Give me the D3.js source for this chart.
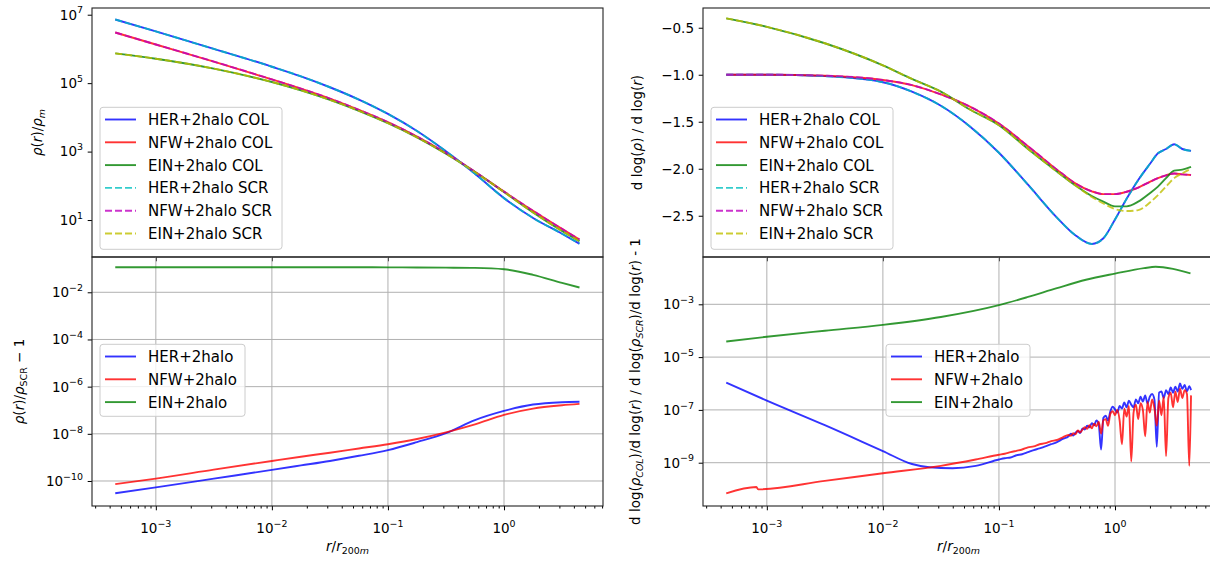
<!DOCTYPE html>
<html>
<head>
<meta charset="utf-8">
<script src="https://cdn.jsdelivr.net/npm/d3@7/dist/d3.min.js"></script>
<style>
  body { margin: 0; background: #fff; }
  svg { display: block; }
  text { font-family: "DejaVu Sans", sans-serif; fill: #000; }
</style>
</head>
<body>
<svg id="chart" width="1210" height="566"></svg>
<script>
// radius grid of the density panels, r / r200m
const rProfile = [4.47e-4, 1e-3, 3.16e-3, 1e-2, 1.78e-2, 3.16e-2, 5.62e-2, 0.1, 0.178, 0.316, 0.562, 1, 1.78, 3.16, 4.47];

// rho(r) / rho_m  (COL and SCR lie on top of each other here)
const herDensity = [7.24e6, 3.24e6, 1.0e6, 3.02e5, 1.58e5, 7.59e4, 3.31e4, 1.26e4, 3.98e3, 1.02e3, 224, 43.7, 11.5, 3.98, 2.04];
const nfwDensity = [3.02e6, 1.35e6, 4.27e5, 1.29e5, 6.92e4, 3.55e4, 1.66e4, 7.24e3, 2.75e3, 912, 257, 67.6, 18.6, 5.50, 2.69];
const einDensity = [7.41e5, 5.18e5, 2.66e5, 1.08e5, 6.18e4, 3.26e4, 1.56e4, 6.78e3, 2.61e3, 869, 252, 65.8, 16.7, 4.79, 2.40];

// rho(r) / rho_SCR - 1
const herRatio = [3.02e-11, 5.37e-11, 1.26e-10, 2.95e-10, 4.57e-10, 7.08e-10, 1.17e-9, 2.04e-9, 4.47e-9, 1.07e-8, 3.80e-8, 9.33e-8, 1.74e-7, 2.19e-7, 2.29e-7];
const nfwRatio = [7.41e-11, 1.26e-10, 3.02e-10, 7.08e-10, 1.07e-9, 1.58e-9, 2.40e-9, 3.63e-9, 6.03e-9, 1.15e-8, 2.51e-8, 6.31e-8, 1.17e-7, 1.62e-7, 1.86e-7];
const einRatio = [0.115, 0.115, 0.115, 0.115, 0.115, 0.115, 0.115, 0.114, 0.113, 0.111, 0.108, 0.095, 0.055, 0.025, 0.016];

// logarithmic slope d log(rho) / d log(r)
const rSlope = [4.47e-4, 1e-3, 3.16e-3, 1e-2, 1.78e-2, 3.16e-2, 5.62e-2, 0.1, 0.178, 0.316, 0.447, 0.631, 0.794, 1, 1.259, 1.585, 1.995, 2.344, 2.754, 3.236, 3.802, 4.519];
const herSlope = [-1.00, -1.00, -1.015, -1.08, -1.18, -1.33, -1.55, -1.83, -2.17, -2.52, -2.70, -2.80, -2.74, -2.54, -2.32, -2.12, -1.95, -1.836, -1.79, -1.74, -1.79, -1.81];
const nfwSlope = [-1.00, -1.00, -1.01, -1.056, -1.11, -1.21, -1.34, -1.52, -1.76, -2.01, -2.15, -2.24, -2.27, -2.27, -2.245, -2.20, -2.14, -2.10, -2.07, -2.05, -2.06, -2.067];
const einSlopeCol = [-0.40, -0.49, -0.665, -0.90, -1.045, -1.18, -1.37, -1.537, -1.79, -2.03, -2.17, -2.29, -2.35, -2.40, -2.40, -2.35, -2.26, -2.19, -2.10, -2.02, -2.01, -1.98];
const einSlopeScr = [-0.40, -0.49, -0.665, -0.90, -1.045, -1.18, -1.37, -1.537, -1.79, -2.03, -2.17, -2.30, -2.37, -2.43, -2.45, -2.44, -2.36, -2.28, -2.19, -2.10, -2.05, -2.00];

// slope ratio - 1, smooth inner part
const rHerInner = [4.47e-4, 1e-3, 3.16e-3, 1e-2, 1.78e-2, 2.51e-2, 3.98e-2, 6.31e-2];
const herDiffInner = [1.07e-6, 2.24e-7, 2.63e-8, 2.75e-9, 8.91e-10, 6.76e-10, 6.17e-10, 7.59e-10];
const rNfwInner = [4.47e-4, 8.13e-4, 8.41e-4, 3.16e-3, 1e-2, 3.16e-2, 6.31e-2];
const nfwDiffInner = [6.92e-11, 1.20e-10, 9.77e-11, 2.04e-10, 3.98e-10, 7.59e-10, 1.32e-9];

// slope ratio - 1, noisy outer part
const rNoisy = [0.1, 0.1122, 0.1259, 0.1413, 0.1585, 0.1778, 0.1995, 0.2239, 0.2512, 0.2818, 0.3162, 0.3548,
  0.3981, 0.4169, 0.4365, 0.4571, 0.4786, 0.5012, 0.5248, 0.5495, 0.5754, 0.6026, 0.6310, 0.6607, 0.6918, 0.7244,
  0.7586, 0.7943, 0.8318, 0.8710, 0.9120, 0.9550, 1.0, 1.047, 1.096, 1.148, 1.202, 1.259, 1.318, 1.380, 1.445,
  1.514, 1.585, 1.660, 1.738, 1.820, 1.905, 1.995, 2.089, 2.188, 2.291, 2.399, 2.512, 2.630, 2.754, 2.884, 3.020,
  3.162, 3.311, 3.467, 3.631, 3.802, 3.981, 4.169, 4.365, 4.519];
const herDiffNoisy = [1.32e-9, 1.48e-9, 1.58e-9, 1.91e-9, 2.09e-9, 2.51e-9, 3.02e-9, 3.47e-9, 4.17e-9, 5.01e-9, 6.03e-9, 7.94e-9,
  1.0e-8, 1.26e-8, 1.07e-8, 1.38e-8, 1.58e-8, 1.32e-8, 2.0e-8, 1.82e-8, 2.51e-8, 2.19e-8, 3.16e-8, 2.63e-8, 3.98e-8, 2.82e-8,
  3.16e-9, 5.01e-8, 6.03e-8, 3.98e-8, 8.91e-8, 1.32e-7, 1.05e-7, 7.94e-8, 1.41e-7, 1.12e-7, 1.91e-7, 1.26e-7, 2.24e-7, 1.58e-7,
  1.26e-7, 2.51e-7, 1.78e-7, 3.16e-7, 2.09e-7, 3.55e-7, 1.78e-7, 3.16e-7, 3.98e-7, 2.40e-7, 3.98e-9, 4.47e-7, 5.01e-7, 2.82e-7,
  5.62e-7, 3.98e-7, 7.08e-7, 4.47e-7, 7.59e-7, 5.01e-7, 1.0e-6, 6.31e-7, 8.91e-7, 5.01e-7, 7.94e-7, 5.62e-7];
const nfwDiffNoisy = [2.0e-9, 2.19e-9, 2.51e-9, 2.82e-9, 3.16e-9, 3.80e-9, 4.17e-9, 5.01e-9, 5.50e-9, 6.61e-9, 7.24e-9, 9.12e-9,
  1.12e-8, 1.05e-8, 1.32e-8, 1.20e-8, 1.66e-8, 1.41e-8, 1.78e-8, 2.19e-8, 1.91e-8, 2.63e-8, 2.0e-8, 3.02e-8, 2.40e-8, 3.55e-8,
  1.26e-8, 3.98e-8, 4.47e-8, 2.51e-8, 7.08e-8, 8.91e-8, 6.31e-8, 1.0e-7, 3.98e-8, 5.01e-9, 1.12e-7, 5.62e-8, 1.41e-7, 1.12e-9,
  7.94e-8, 1.58e-7, 4.47e-8, 1.78e-7, 1.0e-7, 1.0e-8, 2.0e-7, 7.94e-8, 2.51e-7, 1.12e-7, 2.51e-8, 2.24e-7, 6.31e-8, 3.16e-7,
  1.78e-9, 2.82e-7, 4.47e-7, 1.26e-7, 5.01e-7, 2.0e-7, 6.31e-7, 2.82e-7, 5.62e-7, 3.98e-7, 7.59e-10, 3.55e-7];
const rEinDiff = [4.47e-4, 1e-3, 3.16e-3, 1e-2, 3.16e-2, 0.1, 0.178, 0.316, 0.562, 1, 1.78, 2.24, 3.16, 4.47];
const einDiff = [3.9e-5, 5.9e-5, 1.0e-4, 1.66e-4, 3.3e-4, 9.3e-4, 1.9e-3, 4.1e-3, 8.5e-3, 1.45e-2, 2.34e-2, 2.63e-2, 2.19e-2, 1.48e-2];

// ticks and labels
const xTickExp = [-3, -2, -1, 0];
const yTickExpDensity = [7, 5, 3, 1];
const yTickExpRatio = [-2, -4, -6, -8, -10];
const yTickSlope = [-0.5, -1.0, -1.5, -2.0, -2.5];
const yTickExpDiff = [-3, -5, -7, -9];
const profileLabels = ['HER+2halo COL', 'NFW+2halo COL', 'EIN+2halo COL', 'HER+2halo SCR', 'NFW+2halo SCR', 'EIN+2halo SCR'];
const ratioLabels = ['HER+2halo', 'NFW+2halo', 'EIN+2halo'];

const colors = {her: '#0000ff', nfw: '#ff0000', ein: '#008000', herScr: '#00bfbf', nfwScr: '#bf00bf', einScr: '#bfbf00'};
const LW = 1.9, DASH = '7,3';
const TICK_FS = 13.5, LEG_FS = 15, LAB_FS = 13.5;

const svg = d3.select('#chart');
const xDomain = [Math.pow(10, -3.55), Math.pow(10, 0.853)];
var clipCount = 0;

function expText(e){
  return e < 0 ? '\u2212' + (-e) : String(e);
}

function richText(sel, parts, fs){
  let shift = 0;
  parts.forEach(function(part){
    const ts = sel.append('tspan').text(part.t);
    let want = 0;
    if(part.sub) want = fs * 0.24;
    if(part.sup) want = -fs * 0.45;
    if(want !== shift) ts.attr('dy', want - shift);
    shift = want;
    if(part.it) ts.attr('font-style', 'italic');
    if(part.sub || part.sup) ts.attr('font-size', fs * 0.7);
  });
}

function makePanel(f, yScale, opts){
  const g = svg.append('g');
  const x = d3.scaleLog().domain(xDomain).range([f.left, f.right]);
  const y = yScale.range([f.bottom, f.top]);
  const id = 'clip' + (clipCount++);

  svg.append('clipPath').attr('id', id).append('rect')
    .attr('x', f.left).attr('y', f.top)
    .attr('width', f.right - f.left).attr('height', f.bottom - f.top);

  const xMajor = xTickExp.map(e => Math.pow(10, e));

  if(opts.grid){
    const grid = g.append('g').attr('stroke', '#b0b0b0').attr('stroke-width', 1);
    xMajor.forEach(v => {
      grid.append('line').attr('x1', x(v)).attr('x2', x(v)).attr('y1', f.top).attr('y2', f.bottom);
    });
    opts.yTicks.forEach(v => {
      grid.append('line').attr('x1', f.left).attr('x2', f.right).attr('y1', y(v)).attr('y2', y(v));
    });
  }

  const plot = g.append('g').attr('clip-path', 'url(#' + id + ')');

  // x ticks
  const xa = g.append('g').attr('transform', 'translate(0,' + f.bottom + ')')
    .call(d3.axisBottom(x).tickValues(xMajor).tickSize(4.3).tickSizeOuter(0).tickFormat(''));
  xa.select('.domain').remove();

  if(opts.xLabels){
    const minor = [];
    for(let k = -4; k <= 0; k++){
      for(let m = 2; m <= 9; m++){
        const v = m * Math.pow(10, k);
        if(v > xDomain[0] && v < xDomain[1]) minor.push(v);
      }
    }
    const xm = g.append('g').attr('transform', 'translate(0,' + f.bottom + ')')
      .call(d3.axisBottom(x).tickValues(minor).tickSize(2.5).tickSizeOuter(0).tickFormat(''));
    xm.select('.domain').remove();

    xTickExp.forEach(e => {
      const t = g.append('text').attr('x', x(Math.pow(10, e))).attr('y', f.bottom + 27)
        .attr('text-anchor', 'middle').attr('font-size', TICK_FS);
      richText(t, [{t: '10'}, {t: expText(e), sup: true}], TICK_FS);
    });

    const xl = g.append('text').attr('x', (f.left + f.right) / 2).attr('y', f.bottom + 45)
      .attr('text-anchor', 'middle').attr('font-size', LAB_FS);
    richText(xl, [{t: 'r', it: true}, {t: '/'}, {t: 'r', it: true}, {t: '200', sub: true}, {t: 'm', sub: true, it: true}], LAB_FS);
  }

  // y ticks
  const ya = g.append('g').attr('transform', 'translate(' + f.left + ',0)')
    .call(d3.axisLeft(y).tickValues(opts.yTicks).tickSize(4.3).tickSizeOuter(0).tickFormat(''));
  ya.select('.domain').remove();

  opts.yTicks.forEach((v, i) => {
    const t = g.append('text').attr('x', f.left - 9).attr('y', y(v) + TICK_FS * 0.36)
      .attr('text-anchor', 'end').attr('font-size', TICK_FS);
    if(opts.yExp){
      richText(t, [{t: '10'}, {t: expText(opts.yExp[i]), sup: true}], TICK_FS);
    } else {
      t.text(d3.format('.1f')(v).replace('-', '\u2212'));
    }
  });

  const yl = g.append('text')
    .attr('transform', 'translate(' + opts.labelX + ',' + (f.top + f.bottom) / 2 + ') rotate(-90)')
    .attr('text-anchor', 'middle').attr('font-size', LAB_FS);
  richText(yl, opts.label, LAB_FS);

  return {g: g, plot: plot, x: x, y: y, f: f};
}

function addLine(p, xs, ys, color, dashed){
  const pts = xs.map((v, i) => [v, ys[i]]);
  const line = d3.line().x(d => p.x(d[0])).y(d => p.y(d[1])).curve(d3.curveMonotoneX);
  p.plot.append('path').datum(pts)
    .attr('d', line)
    .attr('fill', 'none')
    .attr('stroke', color)
    .attr('stroke-opacity', 0.8)
    .attr('stroke-width', LW)
    .attr('stroke-linejoin', 'round')
    .attr('stroke-dasharray', dashed ? DASH : null);
}

function addFrame(p){
  const f = p.f;
  p.g.append('rect').attr('x', f.left).attr('y', f.top)
    .attr('width', f.right - f.left).attr('height', f.bottom - f.top)
    .attr('fill', 'none').attr('stroke', '#222').attr('stroke-width', 1.1);
}

function addLegend(p, box, items){
  const lg = p.g.append('g');
  lg.append('rect').attr('x', box.x).attr('y', box.y).attr('width', box.w).attr('height', box.h)
    .attr('rx', 3).attr('fill', '#fff').attr('fill-opacity', 0.8)
    .attr('stroke', '#cccccc').attr('stroke-width', 1);
  items.forEach((it, i) => {
    const cy = box.y + 12.2 + i * 22.8;
    lg.append('line').attr('x1', box.x + 5).attr('x2', box.x + 36).attr('y1', cy).attr('y2', cy)
      .attr('stroke', it.color).attr('stroke-opacity', 0.8).attr('stroke-width', LW)
      .attr('stroke-dasharray', it.dashed ? DASH : null);
    lg.append('text').attr('x', box.x + 48).attr('y', cy + LEG_FS * 0.36)
      .attr('font-size', LEG_FS).text(it.label);
  });
}

const profileItems = profileLabels.map((l, i) => ({
  label: l,
  color: [colors.her, colors.nfw, colors.ein, colors.herScr, colors.nfwScr, colors.einScr][i],
  dashed: i > 2
}));
const ratioItems = ratioLabels.map((l, i) => ({label: l, color: [colors.her, colors.nfw, colors.ein][i], dashed: false}));

// top left: density profiles
const tl = makePanel({left: 92, right: 603, top: 8, bottom: 257},
  d3.scaleLog().domain([Math.pow(10, -0.08), Math.pow(10, 7.196)]),
  {yTicks: yTickExpDensity.map(e => Math.pow(10, e)), yExp: yTickExpDensity, labelX: 42,
   label: [{t: 'ρ', it: true}, {t: '('}, {t: 'r', it: true}, {t: ')/'}, {t: 'ρ', it: true}, {t: 'm', it: true, sub: true}]});
addLine(tl, rProfile, herDensity, colors.her);
addLine(tl, rProfile, nfwDensity, colors.nfw);
addLine(tl, rProfile, einDensity, colors.ein);
addLine(tl, rProfile, herDensity, colors.herScr, true);
addLine(tl, rProfile, nfwDensity, colors.nfwScr, true);
addLine(tl, rProfile, einDensity, colors.einScr, true);
addFrame(tl);
addLegend(tl, {x: 100, y: 107.3, w: 182, h: 142}, profileItems);

// bottom left: density ratio
const bl = makePanel({left: 92, right: 603, top: 257, bottom: 506},
  d3.scaleLog().domain([Math.pow(10, -11.06), Math.pow(10, -0.504)]),
  {grid: true, xLabels: true, yTicks: yTickExpRatio.map(e => Math.pow(10, e)), yExp: yTickExpRatio, labelX: 24,
   label: [{t: 'ρ', it: true}, {t: '('}, {t: 'r', it: true}, {t: ')/'}, {t: 'ρ', it: true}, {t: 'SCR', sub: true}, {t: ' \u2212 1'}]});
addLine(bl, rProfile, herRatio, colors.her);
addLine(bl, rProfile, nfwRatio, colors.nfw);
addLine(bl, rProfile, einRatio, colors.ein);
addFrame(bl);
addLegend(bl, {x: 100, y: 344.3, w: 145, h: 72}, ratioItems);

// top right: logarithmic slopes
const tr = makePanel({left: 703, right: 1214, top: 8, bottom: 257},
  d3.scaleLinear().domain([-2.939, -0.290]),
  {yTicks: yTickSlope, labelX: 642,
   label: [{t: 'd log('}, {t: 'ρ', it: true}, {t: ') / d log('}, {t: 'r', it: true}, {t: ')'}]});
addLine(tr, rSlope, herSlope, colors.her);
addLine(tr, rSlope, nfwSlope, colors.nfw);
addLine(tr, rSlope, einSlopeCol, colors.ein);
addLine(tr, rSlope, herSlope, colors.herScr, true);
addLine(tr, rSlope, nfwSlope, colors.nfwScr, true);
addLine(tr, rSlope, einSlopeScr, colors.einScr, true);
addFrame(tr);
addLegend(tr, {x: 711, y: 107.3, w: 182, h: 142}, profileItems);

// bottom right: slope ratio
const br = makePanel({left: 703, right: 1214, top: 257, bottom: 506},
  d3.scaleLog().domain([Math.pow(10, -10.64), Math.pow(10, -1.208)]),
  {grid: true, xLabels: true, yTicks: yTickExpDiff.map(e => Math.pow(10, e)), yExp: yTickExpDiff, labelX: 640,
   label: [{t: 'd log('}, {t: 'ρ', it: true}, {t: 'COL', sub: true, it: true}, {t: ')/d log('}, {t: 'r', it: true},
           {t: ') / d log('}, {t: 'ρ', it: true}, {t: 'SCR', sub: true, it: true}, {t: ')/d log('}, {t: 'r', it: true}, {t: ') - 1'}]});
addLine(br, rHerInner.concat(rNoisy), herDiffInner.concat(herDiffNoisy), colors.her);
addLine(br, rNfwInner.concat(rNoisy), nfwDiffInner.concat(nfwDiffNoisy), colors.nfw);
addLine(br, rEinDiff, einDiff, colors.ein);
addFrame(br);
addLegend(br, {x: 886, y: 344.3, w: 144, h: 72}, ratioItems);
</script>
</body>
</html>
